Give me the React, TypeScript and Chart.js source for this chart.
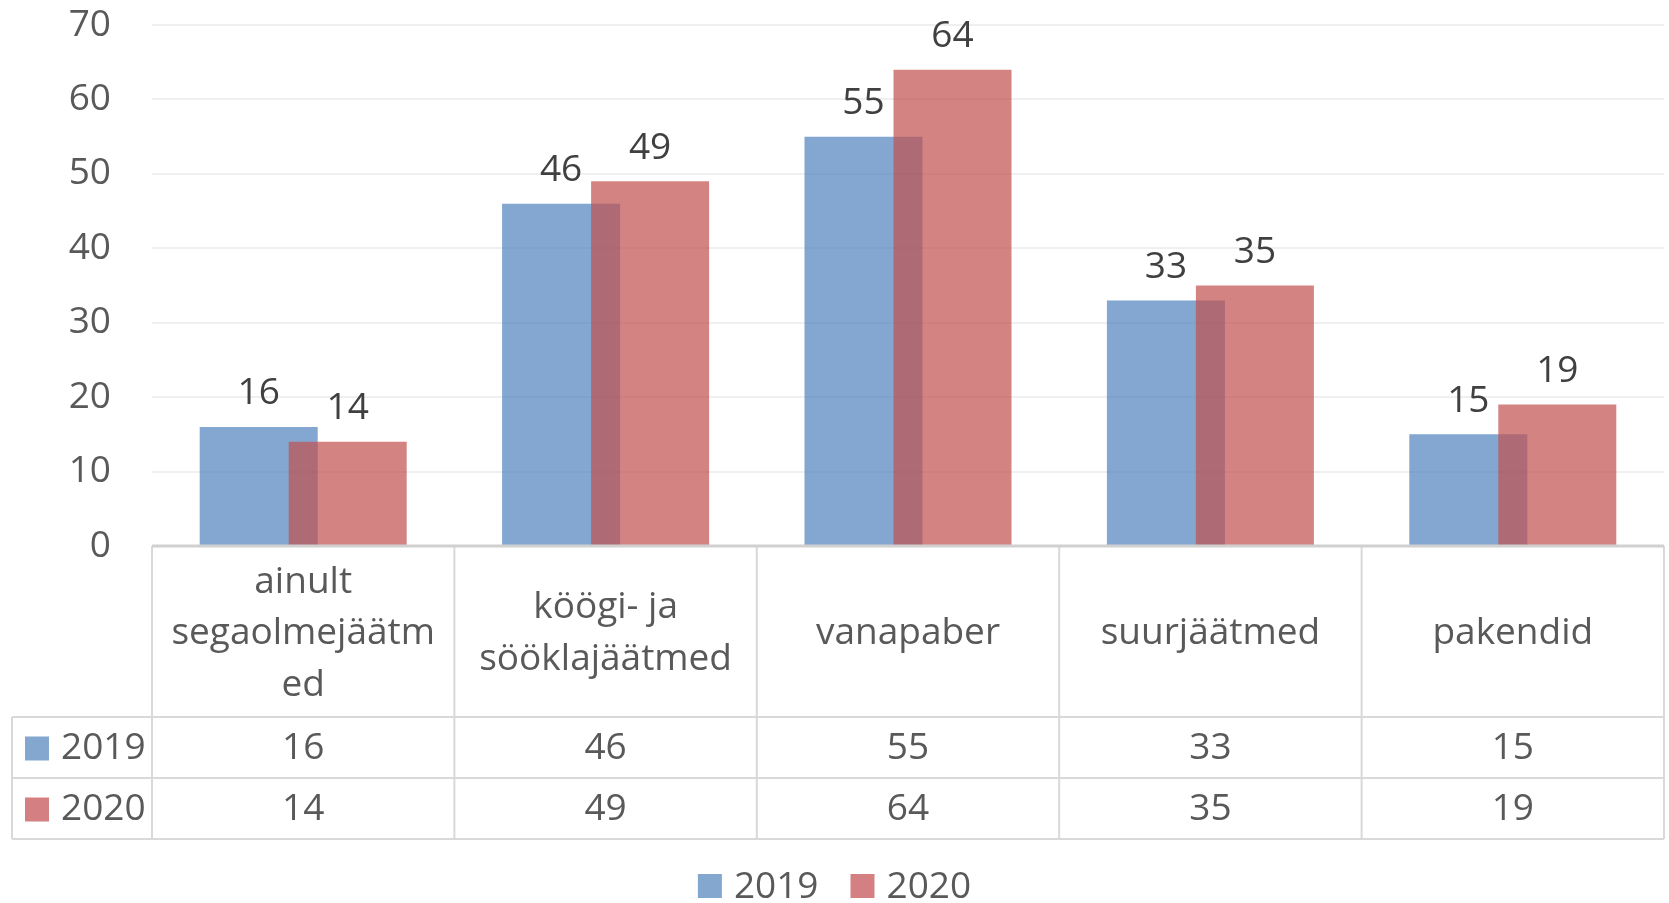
import React, { useEffect, useRef } from "react";
import { Chart, registerables } from "chart.js";

Chart.register(...registerables);

// ---- Data ----
const categoryLines: string[][] = [
  ["ainult", "segaolmejäätm", "ed"],
  ["köögi- ja", "sööklajäätmed"],
  ["vanapaber"],
  ["suurjäätmed"],
  ["pakendid"],
];
const categories = categoryLines.map((l) => l.join(" "));
const seriesNames = ["2019", "2020"];
const values2019 = [16, 46, 55, 33, 15];
const values2020 = [14, 49, 64, 35, 19];
const yMin = 0;
const yMax = 70;
const yStep = 10;

// ---- Styles ----
const FONT = '"Open Sans", "DejaVu Sans", sans-serif';
const FONT_SIZE = 37;
const TEXT = "#595959";
const LABEL_TEXT = "#404040";
const FILLS = ["rgba(79,129,189,0.7)", "rgba(192,80,77,0.7)"];
const SWATCH = ["#84a7cf", "#d48082"];

const tablePlugin = {
  id: "excelTable",
  // draw datasets in index order so that 2020 lies over 2019 (as in Excel)
  beforeDatasetsDraw(chart: any) {
    const area = chart.chartArea;
    const ctx = chart.ctx;
    ctx.save();
    ctx.beginPath();
    ctx.rect(area.left, area.top - 60, area.right - area.left, area.bottom - area.top + 60);
    ctx.clip();
    for (let i = 0; i < chart.data.datasets.length; i++) {
      const meta = chart.getDatasetMeta(i);
      if (meta.visible !== false) meta.controller.draw();
    }
    ctx.restore();
    return false;
  },
  afterDraw(chart: any) {
    const ctx = chart.ctx;
    const area = chart.chartArea;
    const xs = chart.scales.x;
    const n = categories.length;
    const catW = (area.right - area.left) / n;
    const top = area.bottom;
    const headerH = 171;
    const rowH = 61;
    const leftEdge = 12;
    const y1 = top + headerH;
    const y2 = y1 + rowH;
    const y3 = y2 + rowH;

    ctx.save();
    // data labels
    ctx.font = `${FONT_SIZE}px ${FONT}`;
    ctx.fillStyle = LABEL_TEXT;
    ctx.textAlign = "center";
    ctx.textBaseline = "middle";
    chart.data.datasets.forEach((ds: any, di: number) => {
      const meta = chart.getDatasetMeta(di);
      meta.data.forEach((el: any, i: number) => {
        ctx.fillText(String(ds.data[i]), el.x, el.y - 33);
      });
    });

    const line = (a: number, b: number, c: number, d: number) => {
      ctx.beginPath();
      ctx.moveTo(a, b);
      ctx.lineTo(c, d);
      ctx.stroke();
    };
    ctx.strokeStyle = "#d9d9d9";
    ctx.lineWidth = 2;
    [y1, y2, y3].forEach((yy) => line(leftEdge, yy, area.right, yy));
    for (let i = 0; i <= n; i++) {
      const bx = area.left + i * catW;
      line(bx, top, bx, y3);
    }
    line(leftEdge, y1, leftEdge, y3);

    // axis line
    ctx.strokeStyle = "#d0d0d0";
    ctx.lineWidth = 3;
    line(area.left, top, area.right, top);

    // header labels
    ctx.fillStyle = TEXT;
    const lh = 51.5;
    const hc = top + headerH / 2 + 2;
    categoryLines.forEach((lines, i) => {
      const cx = xs.getPixelForValue(i);
      const start = hc - ((lines.length - 1) * lh) / 2;
      lines.forEach((t, k) => ctx.fillText(t, cx, start + k * lh));
    });

    // rows
    const rows = [values2019, values2020];
    rows.forEach((vals, r) => {
      const cy = y1 + rowH * r + rowH / 2 + 1;
      ctx.textAlign = "center";
      ctx.fillStyle = TEXT;
      vals.forEach((v, i) => ctx.fillText(String(v), xs.getPixelForValue(i), cy));
      ctx.fillStyle = SWATCH[r];
      ctx.fillRect(25, cy - 12, 24, 24);
      ctx.fillStyle = TEXT;
      ctx.textAlign = "left";
      ctx.fillText(seriesNames[r], 61, cy);
    });

    // bottom legend
    const sq = 24;
    const gapT = 12;
    const gapI = 32;
    const widths = seriesNames.map((s) => ctx.measureText(s).width);
    const total = widths.reduce((a, w) => a + sq + gapT + w, 0) + gapI * (seriesNames.length - 1);
    let lx = chart.width / 2 - total / 2;
    const ly = 886;
    seriesNames.forEach((s, i) => {
      ctx.fillStyle = SWATCH[i];
      ctx.fillRect(lx, ly - sq / 2, sq, sq);
      lx += sq + gapT;
      ctx.fillStyle = TEXT;
      ctx.textAlign = "left";
      ctx.fillText(s, lx, ly + 1);
      lx += widths[i] + gapI;
    });
    ctx.restore();
  },
};

export default function App() {
  const ref = useRef<HTMLCanvasElement>(null);
  useEffect(() => {
    document.body.style.margin = "0";
    document.body.style.overflow = "hidden";
    if (!ref.current) return;
    const chart = new Chart(ref.current, {
      type: "bar",
      data: {
        labels: categories,
        datasets: [
          {
            label: seriesNames[0],
            data: values2019,
            backgroundColor: FILLS[0],
            borderWidth: 0,
            categoryPercentage: 0.5886,
            barPercentage: 1.326,
          },
          {
            label: seriesNames[1],
            data: values2020,
            backgroundColor: FILLS[1],
            borderWidth: 0,
            categoryPercentage: 0.5886,
            barPercentage: 1.326,
          },
        ],
      },
      options: {
        animation: false,
        responsive: true,
        maintainAspectRatio: false,
        layout: { padding: { top: 25, left: 0, right: 5, bottom: 357 } },
        plugins: { legend: { display: false }, tooltip: { enabled: false } },
        scales: {
          x: { display: false, offset: true },
          y: {
            min: yMin,
            max: yMax,
            afterFit: (scale: any) => {
              scale.width = 152;
            },
            border: { display: false },
            grid: {
              drawTicks: true,
              tickLength: 41,
              tickColor: "rgba(0,0,0,0)",
              lineWidth: 2,
              color: (c: any) => (c.tick && c.tick.value === 0 ? "rgba(0,0,0,0)" : "#efefef"),
            },
            ticks: {
              stepSize: yStep,
              padding: 0,
              color: TEXT,
              font: { family: FONT, size: FONT_SIZE },
            },
          },
        },
      },
      plugins: [tablePlugin],
    });
    return () => chart.destroy();
  }, []);
  return (
    <div style={{ position: "relative", width: "1669px", height: "903px", background: "#fff" }}>
      <canvas ref={ref} />
    </div>
  );
}
